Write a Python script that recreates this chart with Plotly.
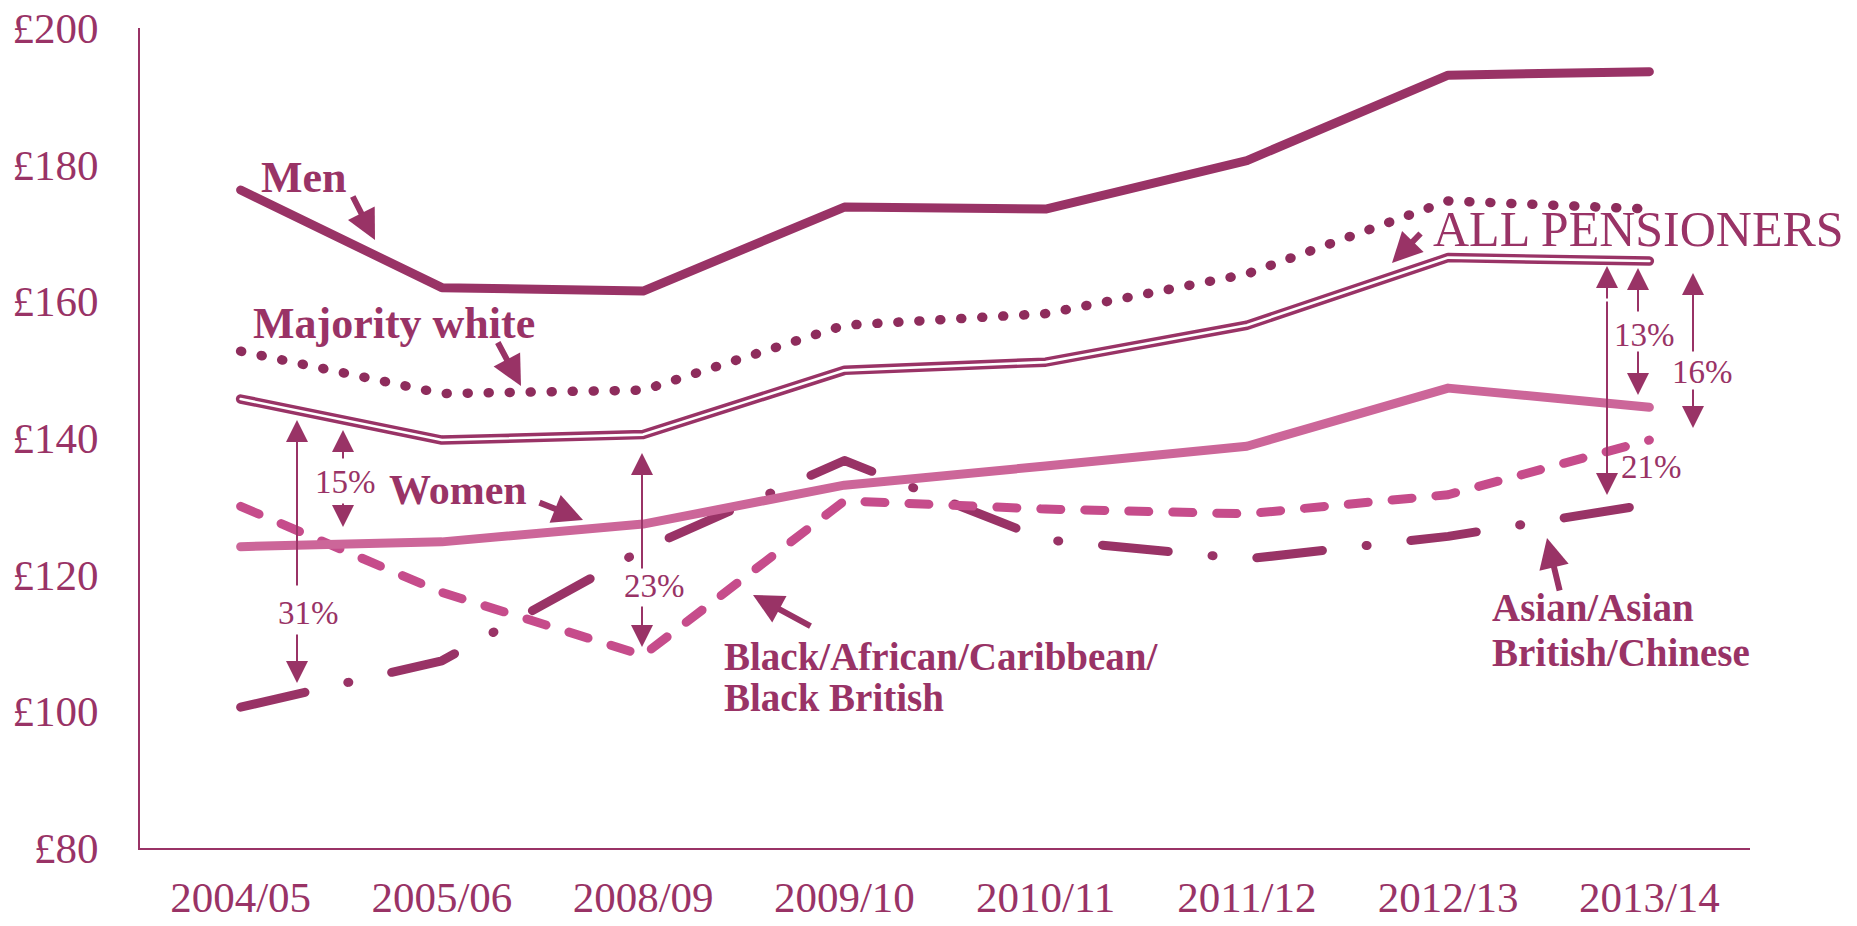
import plotly.graph_objects as go

# ---------------- data ----------------
years = ["2004/05", "2005/06", "2008/09", "2009/10", "2010/11", "2011/12", "2012/13", "2013/14"]
men = [176.3, 162.0, 161.5, 173.8, 173.5, 180.6, 193.1, 193.6]
majority_white = [152.7, 146.5, 147.0, 156.5, 158.2, 164.0, 174.7, 173.5]
all_pensioners = [145.7, 139.7, 140.5, 149.9, 151.1, 156.5, 166.4, 165.9]
women = [124.1, 124.8, 127.4, 133.1, 135.9, 138.8, 147.3, 144.5]
black = [130.0, 117.4, 108.2, 130.8, 129.6, 128.9, 131.7, 139.7]
asian = [100.6, 107.4, 123.7, 136.7, 125.1, 122.3, 125.6, 130.3]
y_ticks = [80, 100, 120, 140, 160, 180, 200]
y_tick_text = ["£80", "£100", "£120", "£140", "£160", "£180", "£200"]

DARK = "#993366"
LIGHT = "#CC6699"
PINK = "#C64C8B"
FONT = "Liberation Serif"

W, H = 1857, 926
L, R, T, B = 140, 107, 28, 78
x_idx = list(range(len(years)))

fig = go.Figure()

fig.add_trace(go.Scatter(x=x_idx, y=asian, mode="lines",
                         line=dict(color=DARK, width=9, dash="66px,44px,1px,44px")))
fig.add_trace(go.Scatter(x=x_idx, y=black, mode="lines",
                         line=dict(color=PINK, width=9, dash="20px,24px")))
fig.add_trace(go.Scatter(x=x_idx, y=women, mode="lines",
                         line=dict(color=LIGHT, width=9)))
fig.add_trace(go.Scatter(x=x_idx, y=all_pensioners, mode="lines",
                         line=dict(color=DARK, width=9.5)))
fig.add_trace(go.Scatter(x=x_idx, y=all_pensioners, mode="lines",
                         line=dict(color="white", width=2.6)))
fig.add_trace(go.Scatter(x=x_idx, y=majority_white, mode="lines",
                         line=dict(color="#8E2C5C", width=9.5, dash="1px,20px")))
fig.add_trace(go.Scatter(x=x_idx, y=men, mode="lines",
                         line=dict(color=DARK, width=9)))

# pixel -> data helpers for annotation placement
pw, ph = W - L - R, H - T - B
def dx(xp):
    return (xp - L) / pw * 8 - 0.5
def dy(yp):
    return 80 + (H - B - yp) / ph * 120

ann = []
def text(xp, yp, s, size, bold=False, anchor="center"):
    ann.append(dict(x=dx(xp), y=dy(yp), xref="x", yref="y", text=("<b>%s</b>" % s) if bold else s,
                    showarrow=False, xanchor=anchor, yanchor="middle",
                    font=dict(family=FONT, size=size, color=DARK)))
def arrow(x0, y0, x1, y1, width, size):
    ann.append(dict(x=dx(x1), y=dy(y1), ax=dx(x0), ay=dy(y0), xref="x", yref="y",
                    axref="x", ayref="y", text="", showarrow=True, arrowhead=2,
                    arrowwidth=width, arrowsize=size, arrowcolor=DARK))

# series labels
text(304, 177, "Men", 44, bold=True)
arrow(352, 195, 375, 240, 6, 1.0)
text(394, 323, "Majority white", 44, bold=True)
arrow(497, 341, 521, 386, 6, 1.0)
text(458, 490, "Women", 42, bold=True)
arrow(538, 502, 583, 520, 6, 1.0)
text(1638, 229, "ALL PENSIONERS", 50)
arrow(1422, 232, 1392, 263, 6, 1.0)
text(722, 656, "Black/African/Caribbean/", 39, bold=True, anchor="left")
text(722, 697, "Black British", 39, bold=True, anchor="left")
arrow(812, 627, 753, 595, 6, 1.0)
text(1490, 607, "Asian/Asian", 39, bold=True, anchor="left")
text(1490, 652, "British/Chinese", 39, bold=True, anchor="left")
arrow(1560, 592, 1547, 538, 6, 1.0)

# gap arrows and percentages
PS = 33
AS = 2.2
text(345, 482, "15%", PS)
arrow(343, 460, 343, 430, 2, AS)
arrow(343, 502, 343, 527, 2, AS)
text(308, 613, "31%", PS)
arrow(297, 587, 297, 420, 2, AS)
arrow(297, 633, 297, 683, 2, AS)
text(654, 586, "23%", PS)
arrow(642, 570, 642, 453, 2, AS)
arrow(642, 605, 642, 647, 2, AS)
text(1644, 335, "13%", PS)
arrow(1638, 313, 1638, 268, 2, AS)
arrow(1638, 350, 1638, 395, 2, AS)
text(1702, 372, "16%", PS)
arrow(1693, 353, 1693, 273, 2, AS)
arrow(1693, 388, 1693, 428, 2, AS)
arrow(1607, 300, 1607, 266, 2, AS)
arrow(1607, 300, 1607, 495, 2, AS)
text(1651, 467, "21%", PS)

fig.update_layout(
    width=W, height=H,
    margin=dict(l=L, r=R, t=T, b=B, autoexpand=False),
    plot_bgcolor="white", paper_bgcolor="white",
    showlegend=False,
    annotations=ann,
    xaxis=dict(range=[-0.5, 7.5], tickvals=x_idx, ticktext=years, showgrid=False,
               zeroline=False, showline=True, linecolor=DARK, linewidth=2, ticks="",
               ticklabelstandoff=10, automargin=False,
               tickfont=dict(family=FONT, size=43, color=DARK)),
    yaxis=dict(range=[80, 200], tickvals=y_ticks, ticktext=y_tick_text, showgrid=False,
               zeroline=False, showline=True, linecolor=DARK, linewidth=2, ticks="",
               ticklabelstandoff=31, automargin=False,
               tickfont=dict(family=FONT, size=43, color=DARK)),
)

post = ("var s=document.createElement('style');"
        "s.innerHTML='.scatterlayer .js-line{stroke-linecap:round !important;stroke-linejoin:round !important;}';"
        "document.head.appendChild(s);")
fig.write_html("out.html", post_script=post)
